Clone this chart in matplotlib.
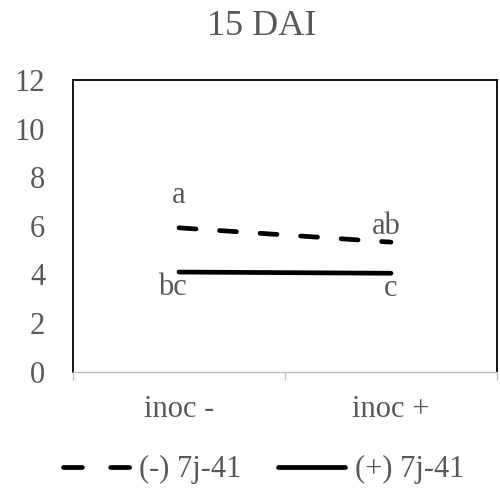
import matplotlib.pyplot as plt
from matplotlib.lines import Line2D

plt.rcParams['font.family'] = ['Liberation Serif', 'DejaVu Serif']

categories = ['inoc -', 'inoc +']
neg_7j41 = [5.92, 5.33]
pos_7j41 = [4.1, 4.05]
neg_letters = ['a', 'ab']
pos_letters = ['bc', 'c']

grey = '#595959'
fs = 22

fig = plt.figure(figsize=(5, 4.91), dpi=100)
ax = fig.add_axes([0.146, 0.243, 0.848, 0.594])

x = [0, 1]
dash = (3.6, 5.0)
ax.plot(x, neg_7j41, color='black', lw=3.4, dashes=dash,
        dash_capstyle='round', solid_capstyle='round')
ax.plot(x, pos_7j41, color='black', lw=3.4, solid_capstyle='round')

ax.text(x[0], neg_7j41[0] + 0.75, neg_letters[0], ha='center', va='bottom',
        fontsize=fs, color=grey)
ax.text(x[1] - 0.02, neg_7j41[1] + 0.05, neg_letters[1], ha='center', va='bottom',
        fontsize=fs, color=grey)
ax.text(x[0] - 0.03, pos_7j41[0] - 0.05, pos_letters[0], ha='center', va='top',
        fontsize=fs, color=grey)
ax.text(x[1], pos_7j41[1] - 0.05, pos_letters[1], ha='center', va='top',
        fontsize=fs, color=grey)

ax.set_xlim(-0.5, 1.5)
ax.set_ylim(0, 12)
ax.set_yticks(range(0, 13, 2))
ax.set_xticks([-0.5, 0.5, 1.5], minor=False)
ax.set_xticklabels(['', '', ''])
ax.set_xticks(x, minor=True)
ax.set_xticklabels(categories, minor=True)
ax.tick_params(axis='x', which='major', length=6, color='#bfbfbf', width=1)
ax.tick_params(axis='x', which='minor', length=0, pad=17, labelsize=fs,
               labelcolor=grey)
ax.tick_params(axis='y', length=0, pad=20, labelsize=fs, labelcolor=grey)

for s in ['left', 'top', 'right']:
    ax.spines[s].set_color('black')
    ax.spines[s].set_linewidth(1.3)
ax.spines['bottom'].set_color('#bfbfbf')
ax.spines['bottom'].set_linewidth(1)

fig.text(0.524, 0.947, '15 DAI', fontsize=26, color=grey,
         ha='center', va='center')

handles = [
    Line2D([], [], color='black', lw=3.4, dashes=(4.0, 6.0), dash_capstyle='round'),
    Line2D([], [], color='black', lw=3.4, solid_capstyle='round'),
]
leg = fig.legend(handles, ['(-) 7j-41', '(+) 7j-41'], loc='center',
                 bbox_to_anchor=(0.527, 0.043), ncol=2, frameon=False,
                 fontsize=fs, handlelength=2.2, handletextpad=0.3,
                 columnspacing=1.2)
for t in leg.get_texts():
    t.set_color(grey)

fig.savefig('out.png', dpi=100)
